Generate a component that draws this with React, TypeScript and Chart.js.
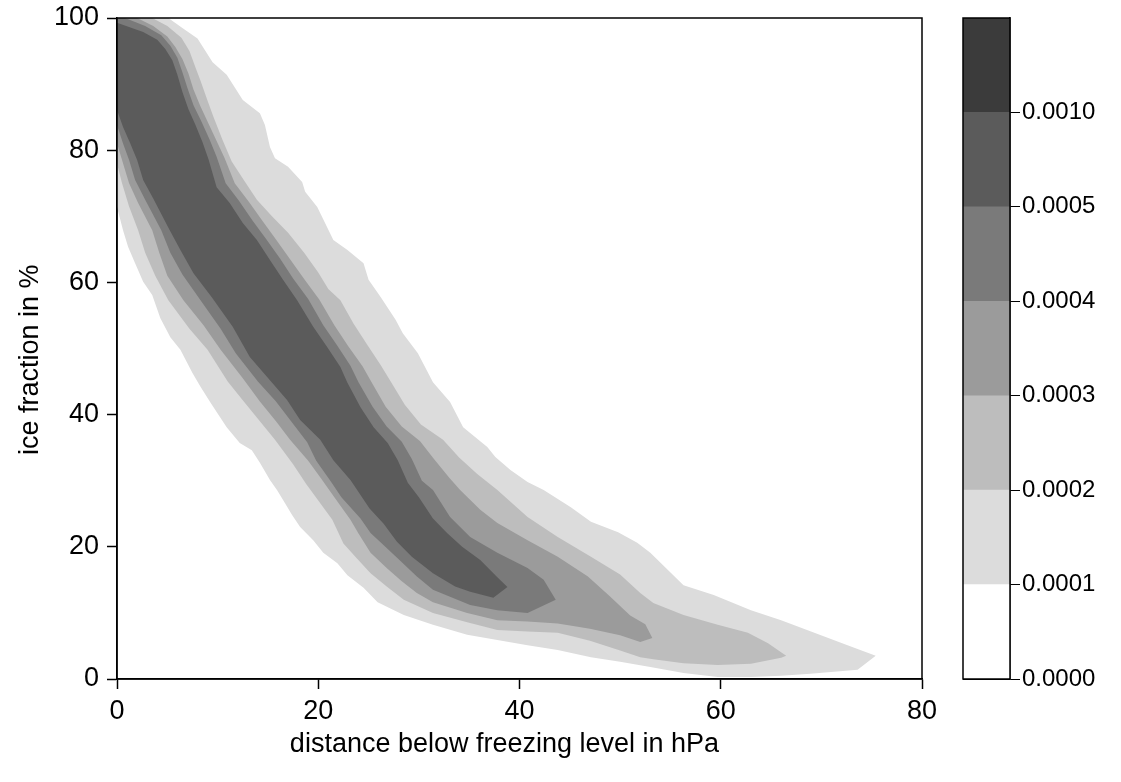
import React, { useEffect, useRef } from 'react';
import { Chart, registerables } from 'chart.js';

Chart.register(...registerables);

type Pt = [number, number];

// axis ticks
const xTickValues = [0, 20, 40, 60, 80];
const yTickValues = [0, 20, 40, 60, 80, 100];

// axis titles (trailing spaces nudge the centred text like the original layout)
const xTitle = 'distance below freezing level in hPa    ';
const yTitle = 'ice fraction in %   ';

// colour key: level boundaries (labels) and band colours (bottom to top)
const keyTickValues = [0, 1, 2, 3, 4, 5, 6, 7];
const keyLabels = ['0.0000', '0.0001', '0.0002', '0.0003', '0.0004', '0.0005', '0.0010'];
const bandColors = ['#ffffff', '#dcdcdc', '#bdbdbd', '#9b9b9b', '#7a7a7a', '#5b5b5b', '#3b3b3b'];

// filled contour outlines (x = hPa below freezing level, y = ice fraction %)
const region0001: Pt[] = [
  [-1, 100.5], [5.1, 100], [6.5, 98.5], [8.0, 96.9], [9.5, 93.3], [10.9, 91.4], [12.5, 87.6], [14.2, 85.6],
  [14.7, 83.8], [15.2, 80.5], [15.7, 78.8], [17.0, 77.5], [18.4, 75.2], [18.7, 73.7], [19.9, 71.4], [21.5, 66.4],
  [22.9, 64.9], [24.5, 62.9], [25.0, 60.4], [26.2, 57.8], [27.7, 54.3], [28.4, 52.3], [29.9, 49.3], [31.4, 44.9],
  [33.1, 41.9], [34.4, 38.1], [36.8, 35.1], [37.6, 33.6], [39.1, 31.6], [40.8, 29.8], [42.4, 28.6], [45.1, 26.0],
  [47.1, 23.8], [49.8, 22.2], [51.7, 20.6], [53.0, 19.1], [56.3, 14.2], [59.3, 12.7], [63.0, 10.4], [66.0, 8.9],
  [69.3, 7.0], [72.6, 5.1], [75.4, 3.5], [73.6, 1.4], [68.9, 0.8], [66.0, 0.5], [63.0, 0.3], [59.7, 0.3],
  [56.3, 0.9], [53.0, 1.8], [50.0, 2.6], [47.1, 3.3], [43.8, 4.4], [40.8, 5.1], [37.8, 5.9], [34.8, 6.7],
  [31.4, 8.2], [28.5, 9.7], [25.9, 11.6], [24.5, 13.8], [22.9, 15.7], [21.9, 17.5], [20.5, 19.1], [19.5, 21.0],
  [18.2, 23.0], [17.4, 24.8], [16.7, 26.6], [15.9, 28.6], [15.2, 30.1], [14.2, 32.7], [13.4, 34.6], [12.2, 35.7],
  [10.9, 38.1], [9.3, 41.8], [8.3, 44.2], [7.5, 46.3], [6.3, 49.8], [5.3, 51.7], [4.3, 54.6], [3.5, 58.1],
  [2.6, 60.1], [1.8, 62.9], [1.1, 65.4], [0.6, 67.9], [0, 71.4], [-1, 71.4],
];

const region0002: Pt[] = [
  [-1, 100.5], [3.5, 100], [5.0, 98.8], [6.4, 97.0], [7.2, 95.0], [7.8, 92.5], [8.3, 90.5], [9.0, 87.5],
  [9.6, 85.0], [10.5, 81.5], [11.4, 78.3], [12.6, 75.5], [13.9, 72.5], [15.4, 70.0], [17.0, 67.5], [18.6, 64.5],
  [20.0, 61.5], [21.0, 59.0], [22.2, 57.3], [23.5, 53.8], [24.9, 50.5], [26.2, 47.5], [27.2, 45.0], [28.6, 41.5],
  [30.2, 38.5], [32.4, 36.2], [34.0, 33.5], [35.8, 31.0], [37.8, 28.6], [40.8, 24.5], [43.8, 21.5], [47.1, 18.5],
  [50.0, 15.8], [52.0, 13.0], [53.3, 11.5], [56.3, 9.7], [59.7, 8.2], [62.7, 7.0], [64.7, 5.4], [66.5, 3.5],
  [66.0, 3.2], [63.0, 2.3], [59.7, 2.1], [56.3, 2.4], [53.3, 3.0], [52.0, 3.3], [50.0, 4.3], [47.0, 5.8],
  [43.8, 7.0], [40.8, 7.2], [37.8, 7.4], [34.8, 8.6], [31.4, 10.0], [28.5, 12.0], [26.8, 14.0], [25.2, 16.0],
  [23.8, 18.3], [22.5, 20.5], [21.4, 24.1], [20.0, 27.0], [18.8, 29.5], [17.5, 32.5], [15.7, 36.2], [14.2, 39.0],
  [12.6, 42.0], [11.0, 45.0], [9.0, 49.8], [7.2, 53.0], [5.1, 57.3], [3.8, 61.0], [2.8, 64.5], [2.1, 67.9],
  [1.2, 71.5], [0.5, 75.0], [0, 78.0], [-1, 78.0],
];

const region0003: Pt[] = [
  [-1, 100.5], [2.0, 100], [3.6, 98.8], [5.0, 97.2], [5.8, 95.6], [6.5, 93.8], [7.1, 91.6], [7.6, 89.2],
  [8.3, 86.6], [9.1, 84.0], [9.9, 81.4], [10.7, 78.8], [11.7, 75.0], [13.1, 72.2], [14.5, 69.2], [15.8, 66.5],
  [17.2, 63.5], [18.6, 60.5], [20.1, 57.4], [21.6, 53.5], [23.0, 50.3], [24.4, 47.3], [25.3, 44.9], [26.7, 41.2],
  [28.3, 38.2], [30.1, 36.0], [31.5, 33.3], [33.0, 30.5], [34.1, 28.6], [36.1, 25.6], [37.8, 23.6], [40.8, 21.0],
  [43.8, 18.5], [46.8, 15.5], [49.0, 12.5], [51.0, 9.6], [52.5, 8.3], [53.2, 6.2], [52.0, 5.6], [50.0, 6.6],
  [47.0, 7.6], [43.8, 8.4], [40.8, 8.7], [37.8, 8.9], [34.8, 10.0], [31.4, 11.6], [29.8, 13.0], [28.3, 14.8],
  [26.8, 16.8], [25.2, 19.1], [24.0, 22.0], [23.2, 24.1], [21.6, 27.5], [20.3, 30.3], [19.0, 33.0], [17.2, 36.2],
  [15.8, 39.0], [14.2, 42.0], [12.5, 45.5], [10.3, 49.8], [8.6, 53.5], [6.6, 57.3], [5.0, 61.0], [4.2, 64.5],
  [3.5, 67.9], [2.1, 72.0], [1.2, 75.0], [0.5, 78.5], [0, 81.0], [-1, 81.0],
];

const region0004: Pt[] = [
  [-1, 100.5], [0.8, 100], [2.8, 98.8], [4.4, 97.4], [5.3, 95.8], [6.0, 94.0], [6.5, 91.8], [7.0, 89.4],
  [7.6, 86.8], [8.4, 84.3], [9.2, 81.6], [9.9, 79.0], [10.8, 75.0], [12.1, 72.4], [13.5, 69.3], [14.8, 66.6],
  [16.2, 63.6], [17.5, 60.6], [19.0, 57.5], [20.5, 53.5], [21.9, 50.4], [23.2, 47.4], [24.0, 44.9], [25.4, 41.2],
  [26.8, 38.2], [28.3, 35.9], [29.3, 33.3], [30.3, 30.0], [31.4, 28.6], [33.1, 24.5], [35.1, 21.5], [37.8, 19.1],
  [40.8, 16.8], [42.4, 15.0], [43.6, 12.0], [40.8, 10.0], [37.8, 10.4], [35.1, 11.2], [31.4, 13.5], [29.8, 15.5],
  [28.2, 17.8], [26.8, 19.8], [25.2, 22.1], [24.2, 24.3], [22.3, 27.5], [21.2, 30.0], [19.8, 33.0], [18.9, 35.8],
  [17.3, 39.0], [15.8, 42.0], [14.0, 45.0], [11.8, 49.3], [10.3, 53.0], [8.3, 57.3], [6.5, 61.2], [5.3, 64.5],
  [4.4, 67.9], [2.8, 72.5], [1.8, 75.5], [1.2, 78.5], [0.6, 81.0], [0, 83.8], [-1, 83.8],
];

const region0005: Pt[] = [
  [-1, 99.3], [0, 99.3], [2.6, 97.9], [4.0, 96.7], [4.8, 95.3], [5.5, 93.6], [6.0, 91.4], [6.5, 88.8],
  [7.1, 86.2], [7.8, 83.8], [8.5, 81.2], [9.1, 78.6], [9.9, 74.4], [11.2, 72.0], [12.5, 69.0], [13.9, 66.4],
  [15.2, 63.4], [16.5, 60.4], [17.9, 57.3], [19.5, 53.3], [20.9, 50.2], [22.2, 47.2], [22.9, 44.8], [24.2, 41.1],
  [25.5, 38.1], [26.9, 35.7], [27.9, 33.1], [28.9, 29.7], [30.0, 27.5], [31.4, 24.3], [32.8, 22.1], [34.3, 20.0],
  [36.1, 18.0], [37.8, 15.4], [38.8, 13.9], [37.4, 12.3], [35.1, 13.2], [33.6, 14.0], [31.4, 16.0], [29.3, 18.5],
  [27.8, 20.8], [26.5, 23.5], [25.1, 25.8], [23.2, 30.1], [21.5, 33.1], [20.2, 36.2], [18.2, 39.2], [16.9, 42.2],
  [15.2, 45.2], [13.2, 48.7], [11.5, 53.3], [9.4, 57.8], [7.6, 61.4], [6.3, 64.9], [5.2, 68.0], [3.6, 72.7],
  [2.6, 75.5], [2.0, 78.5], [1.3, 81.1], [0.6, 83.5], [0, 86.1], [-1, 86.1],
];

const regions: Pt[][] = [region0001, region0002, region0003, region0004, region0005];

const FONT = "'Liberation Sans', Arial, Helvetica, sans-serif";
const AXIS_FONT_SIZE = 27;
const KEY_FONT_SIZE = 24;

const contourFillPlugin = {
  id: 'contourFill',
  beforeDatasetsDraw(chart: any) {
    const { ctx, chartArea } = chart;
    ctx.save();
    ctx.beginPath();
    ctx.rect(chartArea.left, chartArea.top, chartArea.right - chartArea.left, chartArea.bottom - chartArea.top);
    ctx.clip();
    chart.data.datasets.forEach((ds: any, i: number) => {
      const meta = chart.getDatasetMeta(i);
      const pts = meta.data;
      if (!pts.length) return;
      ctx.beginPath();
      pts.forEach((p: any, j: number) => {
        if (j === 0) ctx.moveTo(p.x, p.y);
        else ctx.lineTo(p.x, p.y);
      });
      ctx.closePath();
      ctx.fillStyle = ds.backgroundColor;
      ctx.fill();
    });
    ctx.restore();
  },
};

const framePlugin = {
  id: 'frame',
  afterDraw(chart: any) {
    const { ctx, chartArea } = chart;
    ctx.save();
    ctx.strokeStyle = '#000';
    ctx.lineWidth = 1.5;
    ctx.strokeRect(chartArea.left, chartArea.top, chartArea.right - chartArea.left, chartArea.bottom - chartArea.top);
    ctx.restore();
  },
};

export default function App() {
  const mainRef = useRef<HTMLCanvasElement | null>(null);
  const keyRef = useRef<HTMLCanvasElement | null>(null);

  useEffect(() => {
    Chart.defaults.font.family = FONT;
    Chart.defaults.font.size = AXIS_FONT_SIZE;
    Chart.defaults.color = '#000';

    const main = new Chart(mainRef.current as HTMLCanvasElement, {
      type: 'scatter',
      data: {
        datasets: regions.map((r, i) => ({
          label: 'level ' + keyLabels[i + 1],
          data: r.map(([x, y]) => ({ x, y })),
          backgroundColor: bandColors[i + 1],
          borderColor: bandColors[i + 1],
          pointRadius: 0,
          pointHoverRadius: 0,
          showLine: false,
        })),
      },
      options: {
        animation: false,
        responsive: false,
        devicePixelRatio: 1,
        layout: { padding: { left: 0, top: 18, right: 18, bottom: 0 } },
        plugins: { legend: { display: false }, tooltip: { enabled: false } },
        scales: {
          x: {
            type: 'linear',
            min: 0,
            max: 80,
            afterBuildTicks: (s: any) => {
              s.ticks = xTickValues.map((v) => ({ value: v }));
            },
            afterFit: (s: any) => {
              s.height = 103;
              s.paddingLeft = 0;
              s.paddingRight = 0;
            },
            ticks: { padding: 6, color: '#000', font: { size: AXIS_FONT_SIZE, family: FONT } },
            grid: { drawOnChartArea: false, tickLength: 10, tickColor: '#000', tickWidth: 1.5 },
            border: { color: '#000', width: 1.5 },
            title: {
              display: true,
              text: xTitle,
              color: '#000',
              font: { size: AXIS_FONT_SIZE, family: FONT },
              padding: { top: 0, bottom: 21 },
            },
          },
          y: {
            type: 'linear',
            min: 0,
            max: 100,
            afterBuildTicks: (s: any) => {
              s.ticks = yTickValues.map((v) => ({ value: v }));
            },
            afterFit: (s: any) => {
              s.width = 117;
              s.paddingTop = 0;
              s.paddingBottom = 0;
            },
            ticks: { padding: 8, color: '#000', font: { size: AXIS_FONT_SIZE, family: FONT } },
            grid: { drawOnChartArea: false, tickLength: 10, tickColor: '#000', tickWidth: 1.5 },
            border: { color: '#000', width: 1.5 },
            title: {
              display: true,
              text: yTitle,
              color: '#000',
              font: { size: AXIS_FONT_SIZE, family: FONT },
              padding: { top: 14, bottom: 0 },
            },
          },
        },
      } as any,
      plugins: [contourFillPlugin, framePlugin],
    });

    const key = new Chart(keyRef.current as HTMLCanvasElement, {
      type: 'bar',
      data: {
        labels: ['key'],
        datasets: bandColors.map((c, i) => ({
          label: 'band ' + i,
          data: [1],
          backgroundColor: c,
          borderWidth: 0,
          barPercentage: 1,
          categoryPercentage: 1,
        })),
      },
      options: {
        animation: false,
        responsive: false,
        devicePixelRatio: 1,
        layout: { padding: { left: 23, top: 18, right: 0, bottom: 103 } },
        plugins: { legend: { display: false }, tooltip: { enabled: false } },
        scales: {
          x: { display: false, stacked: true },
          y: {
            type: 'linear',
            position: 'right',
            stacked: true,
            min: 0,
            max: 7,
            z: 1,
            afterBuildTicks: (s: any) => {
              s.ticks = keyTickValues.map((v) => ({ value: v }));
            },
            afterFit: (s: any) => {
              s.width = 111;
              s.paddingTop = 0;
              s.paddingBottom = 0;
            },
            ticks: {
              padding: 2,
              color: '#000',
              font: { size: KEY_FONT_SIZE, family: FONT },
              callback: (_v: any, idx: number) => keyLabels[idx] ?? '',
            },
            grid: {
              drawOnChartArea: true,
              color: '#000',
              lineWidth: 1,
              tickLength: 10,
              tickWidth: 1,
              tickColor: (ctx: any) => (ctx.tick && ctx.tick.value === 7 ? 'rgba(0,0,0,0)' : '#000'),
            },
            border: { color: '#000', width: 1.5 },
          },
        },
      } as any,
      plugins: [framePlugin],
    });

    return () => {
      main.destroy();
      key.destroy();
    };
  }, []);

  return (
    <div style={{ position: 'absolute', left: 0, top: 0, width: 1121, height: 782, background: '#fff' }}>
      <canvas
        ref={mainRef}
        width={940}
        height={782}
        style={{ position: 'absolute', left: 0, top: 0, width: 940, height: 782 }}
      />
      <canvas
        ref={keyRef}
        width={181}
        height={782}
        style={{ position: 'absolute', left: 940, top: 0, width: 181, height: 782 }}
      />
    </div>
  );
}
